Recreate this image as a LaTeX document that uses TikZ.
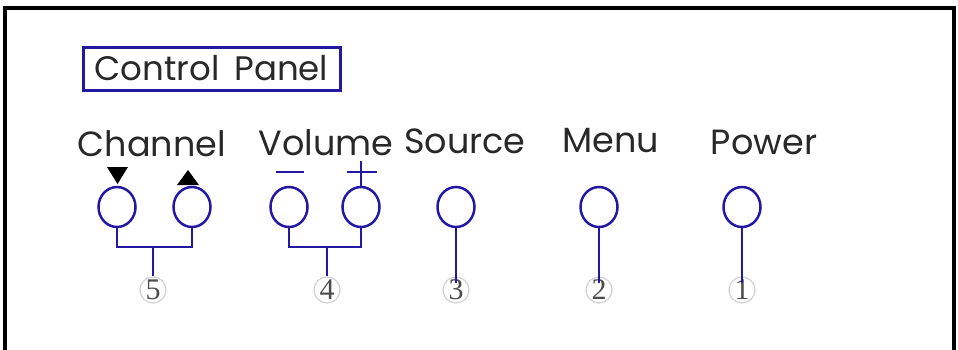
\documentclass[tikz,border=0pt]{standalone}
\usepackage{fontspec}
\setmainfont{Poppins}
\newfontfamily\digitfont{Liberation Serif}
\usetikzlibrary{shapes.geometric}
\definecolor{pblue}{RGB}{35,25,160}
\definecolor{ptext}{RGB}{40,40,40}
\begin{document}
\begin{tikzpicture}[x=1pt,y=-1pt,
  lbl/.style={anchor=base,text=ptext,font=\fontsize{35}{36}\selectfont,inner sep=0pt},
  btn/.style={draw=pblue,line width=2.5pt,ellipse,minimum width=37pt,minimum height=40pt,inner sep=0pt},
  wire/.style={draw=pblue,line width=2.3pt},
  num/.style={circle,draw=black!18,line width=1.2pt,minimum size=26pt,inner sep=0pt,text=black!70,font=\digitfont\fontsize{30}{30}\selectfont},
  tri/.style={fill=black}]
\useasboundingbox (0,0) rectangle (958,349);
% outer frame
\draw[line width=3.8pt,line cap=rect] (5,349) -- (5,8) -- (954,8) -- (954,349);
% title
\node[draw=pblue,line width=3pt,minimum width=257pt,minimum height=43pt,inner sep=0pt,text=ptext,font=\fontsize{34}{35}\selectfont] (title) at (211.5,68.5) {Control\, Panel};
% labels
\node[lbl] (lch) at (152,156) {Channel};
\node[lbl] (lvo) at (326,155) {Volume};
\node[lbl] (lso) at (465,153) {Source};
\node[lbl] (lme) at (611,152) {Menu};
\node[lbl] (lpo) at (764,154) {Power};
% buttons
\node[btn] (chd) at (117,207) {};
\node[btn] (chu) at (192,207) {};
\node[btn] (vom) at (289,207) {};
\node[btn] (vop) at (361,207) {};
\node[btn] (src) at (456,207) {};
\node[btn] (men) at (599,207) {};
\node[btn] (pwr) at (742,207) {};
% circled numbers
\node[num] (n5) at (153,290) {5};
\node[num] (n4) at (327,290) {4};
\node[num] (n3) at (456,290) {3};
\node[num] (n2) at (599,290) {2};
\node[num] (n1) at (742,290) {1};
% triangles
\fill[tri] (107,167) -- (128,167) -- (117.5,184) -- cycle;
\fill[tri] (177,185) -- (199,185) -- (188,170) -- cycle;
% minus / plus
\draw[wire] (276,172) -- (304,172);
\draw[wire] (347,172) -- (377,172);
\draw[wire] (361,161) -- (vop.north);
% brackets
\coordinate (b5) at (153,247);
\coordinate (b4) at (327,247);
\draw[wire] (chd.south) |- (b5) -| (chu.south);
\draw[wire] (b5) -- (n5.north);
\draw[wire] (vom.south) |- (b4) -| (vop.south);
\draw[wire] (b4) -- (n4.north);
% single lines
\draw[wire,shorten >=7pt] (src.south) -- (n3.center);
\draw[wire,shorten >=7pt] (men.south) -- (n2.center);
\draw[wire,shorten >=7pt] (pwr.south) -- (n1.center);
\end{tikzpicture}
\end{document}
